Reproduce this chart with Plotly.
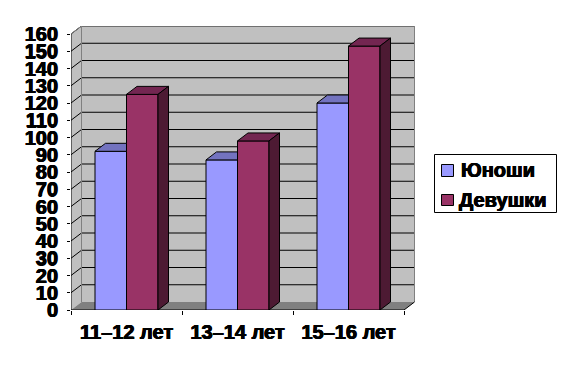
import plotly.graph_objects as go

categories = ["11–12 лет", "13–14 лет", "15–16 лет"]
boys = [92, 87, 120]
girls = [125, 98, 153]
boys_name = "Юноши"
girls_name = "Девушки"
y_ticks = list(range(0, 170, 10))

PAGE = 8  # the browser's default page margin
W, H = 566 - PAGE, 367 - PAGE - 4
L, R, T, B = 71 - PAGE, 415 - PAGE, 26 - PAGE, 310 - PAGE
PX_X = 111.0
PX_Y = 276 / 160
DX = 10.5 / PX_X
DY = 8 / PX_Y
X0 = -0.5
X1 = 2.5
BW = 31.5 / PX_X
FONT = "Liberation Sans, Arial, sans-serif"
SHADOW = "0.6px 0 0 black, -0.4px 0 0 black, 0 0.4px 0 black"

BLUE, BLUE_TOP = "#9999FF", "#7373BF"
MAG, MAG_TOP, MAG_SIDE = "#993366", "#732651", "#4D1A33"


def poly(xs, ys, fill, line=None, lw=1, layer="below"):
    path = "M" + " L".join(f"{x},{y}" for x, y in zip(xs, ys)) + " Z"
    return dict(type="path", path=path, xref="x", yref="y", fillcolor=fill,
                line=dict(color=line, width=lw) if line else dict(width=0), layer=layer)


def seg(x0, y0, x1, y1, color="black", w=1):
    return dict(type="line", x0=x0, y0=y0, x1=x1, y1=y1, xref="x", yref="y",
                line=dict(color=color, width=w), layer="below")


def px_x(p):
    return (p - PAGE - L) / (R - L)


def px_y(p):
    return 1 - (p - PAGE - T) / (B - T)


def box(x0, y0, x1, y1, fill):
    return dict(type="rect", xref="paper", yref="paper", x0=px_x(x0), x1=px_x(x1), y0=px_y(y0), y1=px_y(y1),
                fillcolor=fill, line=dict(color="black", width=1), layer="above")


shapes = [
    poly([X0 + DX, X1 + DX, X1 + DX, X0 + DX], [DY, DY, 160 + DY, 160 + DY], "#C0C0C0"),
    poly([X0, X0 + DX, X0 + DX, X0], [0, DY, 160 + DY, 160], "#C0C0C0"),
    poly([X0, X0 + DX, X1 + DX, X1], [0, DY, DY, 0], "#808080"),
]
for v in y_ticks[1:]:
    shapes.append(seg(X0 + DX, v + DY, X1 + DX, v + DY))
    shapes.append(seg(X0, v, X0 + DX, v + DY))
shapes += [
    seg(X0 + DX, DY, X0 + DX, 160 + DY, "#808080"),
    seg(X0 + DX, 160 + DY, X1 + DX, 160 + DY, "#808080"),
    seg(X1 + DX, 160 + DY, X1 + DX, DY, "#808080"),
    seg(X0, 160, X0 + DX, 160 + DY, "#808080"),
    seg(X1, 0, X1 + DX, DY),
    seg(X0, 0, X0, 160),
    seg(X0, 0, X1, 0),
    box(434.5, 154.5, 556.5, 212.5, "white"),
    box(441.5, 164.5, 453.5, 176.5, BLUE),
    box(441.5, 194.5, 453.5, 205.5, MAG),
]

legend_font = dict(family=FONT, size=20, color="black", weight="bold", shadow=SHADOW)
annotations = [
    dict(text=boys_name, xref="paper", yref="paper", x=px_x(459), y=px_y(170), xanchor="left", yanchor="middle",
         showarrow=False, font=legend_font),
    dict(text=girls_name, xref="paper", yref="paper", x=px_x(457), y=px_y(200), xanchor="left", yanchor="middle",
         showarrow=False, font=legend_font),
]

fig = go.Figure()
xs = list(range(len(categories)))
fig.add_bar(x=xs, y=boys, name=boys_name, marker=dict(color=BLUE, line=dict(color="black", width=1)))
fig.add_bar(x=xs, y=girls, name=girls_name, marker=dict(color=MAG, line=dict(color="black", width=1)))


def face(px, py, fill):
    fig.add_scatter(x=px + px[:1], y=py + py[:1], mode="lines", fill="toself", fillcolor=fill,
                    line=dict(color="black", width=1), showlegend=False, hoverinfo="skip")


for i, (b, g) in enumerate(zip(boys, girls)):
    l, m, r = i - BW, i, i + BW
    face([l, l + DX, m, m], [b, b + DY, b + DY, b], BLUE_TOP)
    face([m, m + DX, r + DX, r], [g, g + DY, g + DY, g], MAG_TOP)
    face([r, r + DX, r + DX, r], [0, DY, g + DY, g], MAG_SIDE)

fig.update_layout(
    width=W, height=H, margin=dict(l=L, r=W - R, t=T, b=H - B, pad=0),
    paper_bgcolor="white", plot_bgcolor="white",
    barmode="group", bargap=1 - 2 * BW, bargroupgap=0,
    shapes=shapes, annotations=annotations, showlegend=False,
    font=dict(family=FONT, color="black"),
    xaxis=dict(range=[X0, X0 + (R - L) / PX_X], tickmode="array", tickvals=xs, ticktext=categories,
               showgrid=False, zeroline=False, showline=False, ticks="", ticklabelstandoff=8,
               minor=dict(tickmode="array", tickvals=[X0, 0.5, 1.5, X1], ticks="outside", ticklen=4,
                          tickcolor="black", tickwidth=1, showgrid=False),
               tickfont=dict(family=FONT, size=20, color="black", weight="bold", shadow=SHADOW)),
    yaxis=dict(range=[0, (B - T) / PX_Y], tickmode="array", tickvals=y_ticks, showgrid=False,
               zeroline=False, showline=False, ticks="outside", ticklen=3, tickcolor="black", tickwidth=1,
               ticklabelstandoff=5,
               tickfont=dict(family=FONT, size=20, color="black", weight="bold", shadow=SHADOW)),
)
fig.write_html("out.html", config=dict(displayModeBar=False))
